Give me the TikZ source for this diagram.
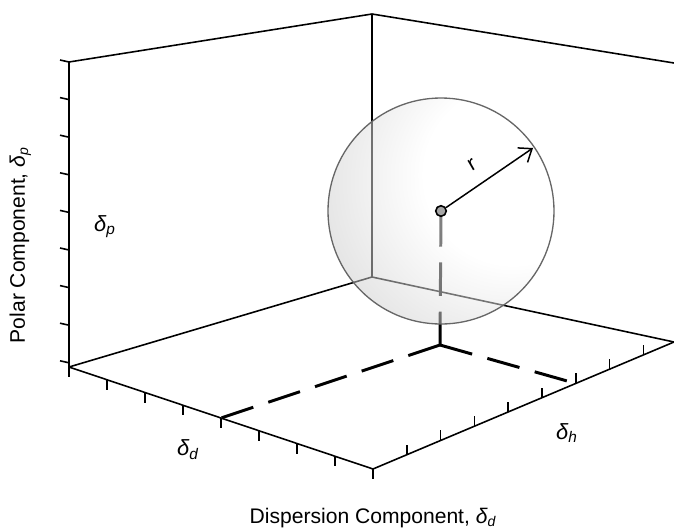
\documentclass[tikz,border=0pt]{standalone}
\usepackage{fontspec}
\setmainfont{Liberation Sans}
\usetikzlibrary{arrows.meta, calc}

\pgfdeclareradialshading{sphereshade}{\pgfpoint{20bp}{10bp}}{%
  color(0bp)=(white); color(20bp)=(white); color(48bp)=(black!30);
  color(72bp)=(black!58); color(100bp)=(black!58)}

\begin{document}
\begin{tikzpicture}[x=0.02cm, y=-0.02cm, font=\fontsize{12}{14}\selectfont,
  frame/.style={line width=0.9pt},
  guide/.style={line width=1.7pt, dash pattern=on 19pt off 9pt},
  greek/.style={font=\fontsize{12.5}{14}\selectfont\itshape}]
\useasboundingbox (0,0) rectangle (674,528);

\coordinate (O) at (69,367);
\coordinate (T) at (69,62);
\coordinate (B) at (372,277);
\coordinate (Bt) at (372,14);
\coordinate (Rt) at (674,63);
\coordinate (D) at (373,469);
\coordinate (R) at (674,342);
\coordinate (P) at (440,345);
\coordinate (C) at (441,211);
\coordinate (tip) at (533,148);
\coordinate (dtick) at ($(O)!0.5!(D)$);
\coordinate (htick) at ($(D)!6*33.8/301!(R)$);

\draw[frame] (O) -- (T) -- (Bt) -- (Rt);
\draw[frame] (Bt) -- (B) -- (R);
\draw[frame] (O) -- (B);
\draw[frame] (O) -- (D) -- (R);

\foreach \k in {0,...,8}{
  \pgfmathsetmacro{\y}{62+\k*37.6}
  \draw[frame] (69,\y) -- ++(-9,-2);
  \draw[frame] ($(O)!\k/8!(D)$) -- ++(0,10);
}
\foreach \k in {1,...,8}
  \draw[frame] ($(D)!\k*33.8/301!(R)$) -- ++(0,-10);

\draw[guide] (P) -- (dtick);
\draw[guide] (P) -- (htick);
\draw[guide] (P) -- (C);

\shade[shading=sphereshade, fill opacity=0.5] (C) circle[radius=113];
\draw[black!60, line width=0.75pt] (C) circle[radius=113];

\node (ctr) [circle, draw, line width=0.9pt, fill=black!35, inner sep=0pt,
  minimum size=6pt] at (C) {};
\draw[line width=0.85pt, -{Straight Barb[length=6.5pt, width=10pt]}] (ctr) -- (tip);
\node (rlab) [rotate=30] at (472,165) {r};

\node (dp) [greek] at (105,227) {δ\textsubscript{p}};
\node (dd) [greek] at (188,450) {δ\textsubscript{d}};
\node (dh) [greek] at (567,433) {δ\textsubscript{h}};

\node (ylab) [rotate=90, anchor=base] at (25,245)
  {Polar Component, \textit{δ\textsubscript{p}}};
\node (xlab) [anchor=base] at (373,523)
  {Dispersion Component, \textit{δ\textsubscript{d}}};
\end{tikzpicture}
\end{document}
